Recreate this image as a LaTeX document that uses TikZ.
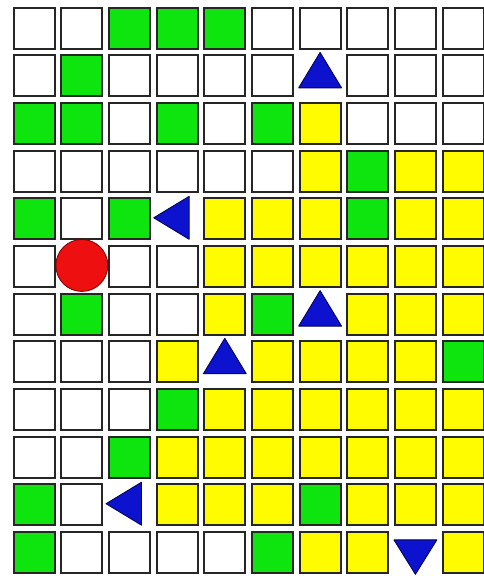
\documentclass[tikz,border=0pt]{standalone}
\usetikzlibrary{positioning}

\definecolor{fieldgreen}{RGB}{14,228,14}
\definecolor{fieldyellow}{RGB}{255,252,0}
\definecolor{moverblue}{RGB}{12,18,205}
\definecolor{ballred}{RGB}{238,16,16}

\begin{document}
\begin{tikzpicture}[
    x=1pt, y=-1pt,
    frame/.style={draw=black!85, line width=2pt},
    mover/.style={draw=blue!30!black, fill=moverblue, line width=0.8pt, line join=round},
    cell-w/.pic={\path[frame, fill=white] (-20.5,-20.5) rectangle (20.5,20.5);},
    cell-g/.pic={\path[frame, fill=fieldgreen] (-20.5,-20.5) rectangle (20.5,20.5);},
    cell-y/.pic={\path[frame, fill=fieldyellow] (-20.5,-20.5) rectangle (20.5,20.5);},
    cell-u/.pic={\path[mover] (0,-23.5) -- (21.5,12) -- (-21.5,12) -- cycle;},
    cell-l/.pic={\path[mover] (-23.5,-1) -- (12,-22.5) -- (12,20.5) -- cycle;},
    cell-d/.pic={\path[mover] (0,22) -- (21.5,-12.5) -- (-21.5,-12.5) -- cycle;},
    cell-r/.pic={\path[draw=red!45!black, fill=ballred, line width=0.8pt] (0,-1) circle (26);}
]

\useasboundingbox (0,0) rectangle (483,576);
\fill[white] (0,0) rectangle (483,576);

% w = empty, g = green, y = yellow, u/l/d = arrows, r = ball
\foreach \row [count=\j from 0] in {
    {w,w,g,g,g,w,w,w,w,w},
    {w,g,w,w,w,w,u,w,w,w},
    {g,g,w,g,w,g,y,w,w,w},
    {w,w,w,w,w,w,y,g,y,y},
    {g,w,g,l,y,y,y,g,y,y},
    {w,r,w,w,y,y,y,y,y,y},
    {w,g,w,w,y,g,u,y,y,y},
    {w,w,w,y,u,y,y,y,y,g},
    {w,w,w,g,y,y,y,y,y,y},
    {w,w,g,y,y,y,y,y,y,y},
    {g,w,l,y,y,y,g,y,y,y},
    {g,w,w,w,w,g,y,y,d,y}}{
  \foreach \c [count=\i from 0] in \row
    \pic (c\i r\j) at ({34.2+47.65*\i},{28.2+47.65*\j}) {cell-\c};
}
\end{tikzpicture}
\end{document}
